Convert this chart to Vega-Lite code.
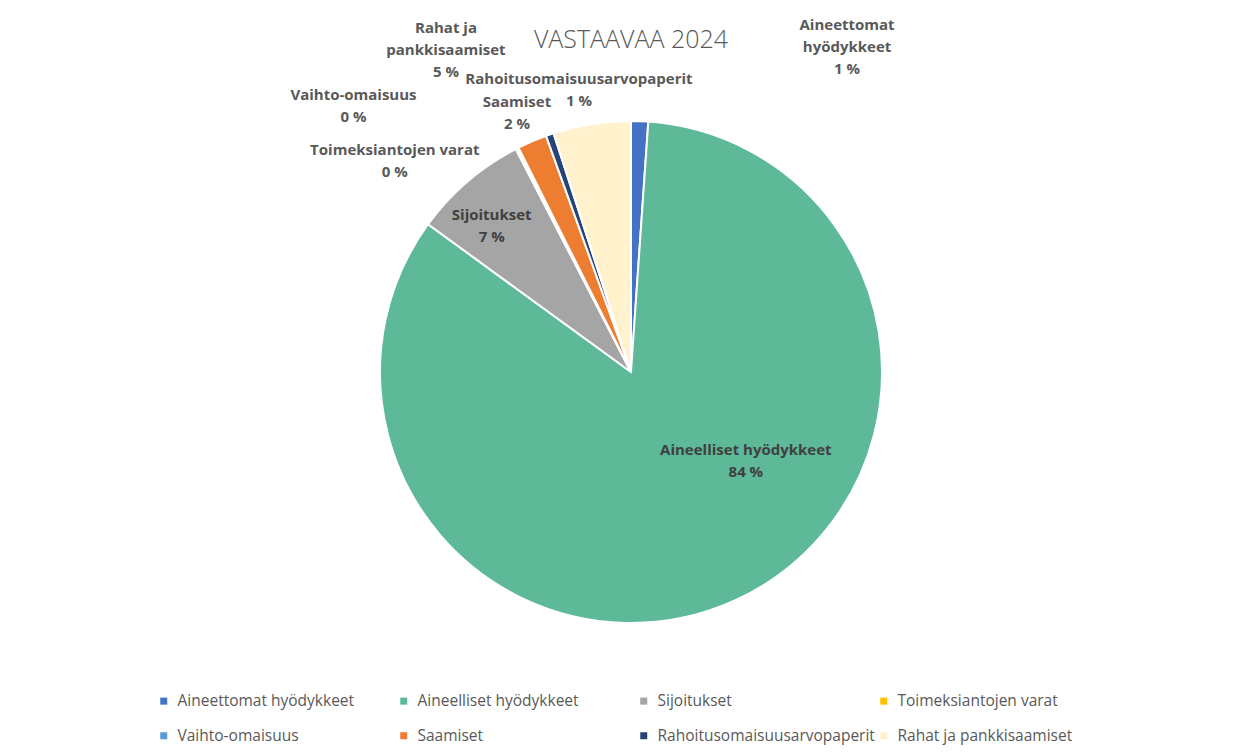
{
  "$schema": "https://vega.github.io/schema/vega-lite/v6.json",
  "width": 1250,
  "height": 732,
  "autosize": {"type": "none"},
  "padding": {"left": 6, "top": 6, "right": 0, "bottom": 18},
  "background": "white",
  "title": {"text": "VASTAAVAA 2024", "font": "Open Sans", "fontSize": 25, "fontWeight": 300, "color": "#595959", "anchor": "middle", "frame": "group", "offset": -42, "dy": 55},
  "config": {"view": {"stroke": null}},
  "data": {"values": [
    {"jarjestys": 1, "kohta": "Aineettomat hyödykkeet", "osuus": 1.1, "teksti": "Aineettomat\nhyödykkeet\n1 %"},
    {"jarjestys": 2, "kohta": "Aineelliset hyödykkeet", "osuus": 84.0, "teksti": "Aineelliset hyödykkeet\n84 %"},
    {"jarjestys": 3, "kohta": "Sijoitukset", "osuus": 7.4, "teksti": "Sijoitukset\n7 %"},
    {"jarjestys": 4, "kohta": "Toimeksiantojen varat", "osuus": 0.1, "teksti": "Toimeksiantojen varat\n0 %"},
    {"jarjestys": 5, "kohta": "Vaihto-omaisuus", "osuus": 0.1, "teksti": "Vaihto-omaisuus\n0 %"},
    {"jarjestys": 6, "kohta": "Saamiset", "osuus": 1.9, "teksti": "Saamiset\n2 %"},
    {"jarjestys": 7, "kohta": "Rahoitusomaisuusarvopaperit", "osuus": 0.5, "teksti": "Rahoitusomaisuusarvopaperit\n1 %"},
    {"jarjestys": 8, "kohta": "Rahat ja pankkisaamiset", "osuus": 5.0, "teksti": "Rahat ja\npankkisaamiset\n5 %"}
  ]},
  "encoding": {
    "theta": {"field": "osuus", "type": "quantitative", "stack": true},
    "order": {"field": "jarjestys", "type": "quantitative"}
  },
  "layer": [
    {
      "mark": {"type": "arc", "outerRadius": 251, "stroke": "white", "strokeWidth": 2},
      "encoding": {
        "color": {
          "field": "kohta", "type": "nominal",
          "scale": {
            "domain": ["Aineettomat hyödykkeet", "Aineelliset hyödykkeet", "Sijoitukset", "Toimeksiantojen varat", "Vaihto-omaisuus", "Saamiset", "Rahoitusomaisuusarvopaperit", "Rahat ja pankkisaamiset"],
            "range": ["#4472C4", "#5DB998", "#A5A5A5", "#FFC000", "#5B9BD5", "#ED7D31", "#264478", "#FFF2CC"]
          },
          "legend": {
            "title": null, "orient": "none", "legendX": 150, "legendY": 687, "direction": "horizontal",
            "columns": 4, "gridAlign": "all", "columnPadding": 1, "rowPadding": 18,
            "symbolType": "square", "symbolSize": 49, "symbolStrokeWidth": 0,
            "labelFont": "Open Sans", "labelFontSize": 15.5, "labelColor": "#595959", "labelOffset": 6, "padding": 0,
            "labelLimit": 300
          }
        }
      }
    },
    {
      "mark": {"type": "text", "radius": 139, "thetaOffset": -0.536, "font": "Open Sans", "fontSize": 15, "fontWeight": "bold", "color": "#404040", "lineBreak": "\n", "lineHeight": 22, "align": "center", "baseline": "middle"},
      "encoding": {"text": {"condition": {"test": "datum.jarjestys === 2", "field": "teksti"}, "value": ""}}
    },
    {
      "mark": {"type": "text", "radius": 210, "thetaOffset": -0.016, "font": "Open Sans", "fontSize": 15, "fontWeight": "bold", "color": "#404040", "lineBreak": "\n", "lineHeight": 22, "align": "center", "baseline": "middle"},
      "encoding": {"text": {"condition": {"test": "datum.jarjestys === 3", "field": "teksti"}, "value": ""}}
    },
    {
      "mark": {"type": "text", "radius": 409, "thetaOffset": 0.522, "font": "Open Sans", "fontSize": 15, "fontWeight": "bold", "color": "#595959", "lineBreak": "\n", "lineHeight": 22, "align": "center", "baseline": "middle"},
      "encoding": {"text": {"condition": {"test": "datum.jarjestys === 1", "field": "teksti"}, "value": ""}}
    },
    {
      "mark": {"type": "text", "radius": 324, "thetaOffset": -0.343, "font": "Open Sans", "fontSize": 15, "fontWeight": "bold", "color": "#595959", "lineBreak": "\n", "lineHeight": 22, "align": "center", "baseline": "middle"},
      "encoding": {"text": {"condition": {"test": "datum.jarjestys === 4", "field": "teksti"}, "value": ""}}
    },
    {
      "mark": {"type": "text", "radius": 392, "thetaOffset": -0.319, "font": "Open Sans", "fontSize": 15, "fontWeight": "bold", "color": "#595959", "lineBreak": "\n", "lineHeight": 22, "align": "center", "baseline": "middle"},
      "encoding": {"text": {"condition": {"test": "datum.jarjestys === 5", "field": "teksti"}, "value": ""}}
    },
    {
      "mark": {"type": "text", "radius": 293, "thetaOffset": 0.005, "font": "Open Sans", "fontSize": 15, "fontWeight": "bold", "color": "#595959", "lineBreak": "\n", "lineHeight": 22, "align": "center", "baseline": "middle"},
      "encoding": {"text": {"condition": {"test": "datum.jarjestys === 6", "field": "teksti"}, "value": ""}}
    },
    {
      "mark": {"type": "text", "radius": 298, "thetaOffset": 0.154, "font": "Open Sans", "fontSize": 15, "fontWeight": "bold", "color": "#595959", "lineBreak": "\n", "lineHeight": 22, "align": "center", "baseline": "middle"},
      "encoding": {"text": {"condition": {"test": "datum.jarjestys === 7", "field": "teksti"}, "value": ""}}
    },
    {
      "mark": {"type": "text", "radius": 391, "thetaOffset": -0.336, "font": "Open Sans", "fontSize": 15, "fontWeight": "bold", "color": "#595959", "lineBreak": "\n", "lineHeight": 22, "align": "center", "baseline": "middle"},
      "encoding": {"text": {"condition": {"test": "datum.jarjestys === 8", "field": "teksti"}, "value": ""}}
    }
  ]
}
